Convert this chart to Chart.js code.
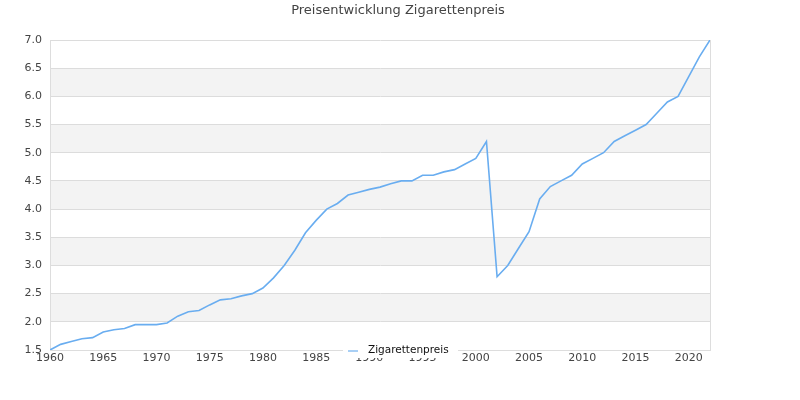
<!DOCTYPE html>
<html>
<head>
<meta charset="utf-8">
<title>Preisentwicklung Zigarettenpreis</title>
<script src="https://cdn.jsdelivr.net/npm/chart.js@4"></script>
<style>
    html, body { margin: 0; padding: 0; background: #fff; }
    #wrap { width: 800px; height: 400px; }
</style>
</head>
<body>
<div id="wrap"><canvas id="priceChart" width="800" height="400"></canvas></div>
<script>
/* ==========================================
   Daten
========================================== */

const years = [
    1960, 1961, 1962, 1963, 1964, 1965, 1966, 1967, 1968, 1969,
    1970, 1971, 1972, 1973, 1974, 1975, 1976, 1977, 1978, 1979,
    1980, 1981, 1982, 1983, 1984, 1985, 1986, 1987, 1988, 1989,
    1990, 1991, 1992, 1993, 1994, 1995, 1996, 1997, 1998, 1999,
    2000, 2001, 2002, 2003, 2004, 2005, 2006, 2007, 2008, 2009,
    2010, 2011, 2012, 2013, 2014, 2015, 2016, 2017, 2018, 2019,
    2020, 2021, 2022
];

const prices = [
    1.50, 1.60, 1.65, 1.70, 1.72, 1.82, 1.86, 1.88, 1.95, 1.95,
    1.95, 1.98, 2.10, 2.18, 2.20, 2.30, 2.39, 2.41, 2.46, 2.50,
    2.60, 2.78, 3.00, 3.27, 3.58, 3.80, 4.00, 4.10, 4.25, 4.30,
    4.35, 4.39, 4.45, 4.50, 4.50, 4.60, 4.60, 4.66, 4.70, 4.80,
    4.90, 5.20, 2.80, 3.00, 3.30, 3.60, 4.18, 4.40, 4.50, 4.60,
    4.80, 4.90, 5.00, 5.20, 5.30, 5.40, 5.50, 5.70, 5.90, 6.00,
    6.35, 6.70, 7.00
];

const seriesLabel = "Zigarettenpreis";
const chartTitle = "Preisentwicklung Zigarettenpreis";

const FONT = "'DejaVu Sans', sans-serif";

/* ==========================================
   Hintergrund-Streifen
========================================== */

const bandPlugin = {
    id: "bands",
    beforeDraw(chart) {
        const { ctx, chartArea, scales } = chart;
        const y = scales.y;
        ctx.save();
        ctx.fillStyle = "#f3f3f3";
        for (let v = 2.0; v < 7.0; v += 1.0) {
            const top = y.getPixelForValue(v + 0.5);
            const bottom = y.getPixelForValue(v);
            ctx.fillRect(chartArea.left, top, chartArea.right - chartArea.left, bottom - top);
        }
        ctx.restore();
    }
};

/* ==========================================
   Titel + Legende
========================================== */

const overlayPlugin = {
    id: "overlay",
    afterDraw(chart) {
        const { ctx, chartArea } = chart;
        ctx.save();

        // Titel
        ctx.font = "13px " + FONT;
        ctx.fillStyle = "#444";
        ctx.textAlign = "center";
        ctx.textBaseline = "middle";
        ctx.fillText(chartTitle, 398, 11);

        // Legende
        ctx.font = "10.5px " + FONT;
        const label = chart.data.datasets[0].label;
        const yMid = chartArea.bottom;
        ctx.fillStyle = "#fff";
        ctx.fillRect(343, yMid - 7, 115, 15);
        ctx.strokeStyle = "#a8cff5";
        ctx.lineWidth = 2;
        ctx.beginPath();
        ctx.moveTo(348, yMid + 1);
        ctx.lineTo(358, yMid + 1);
        ctx.stroke();
        ctx.fillStyle = "#111";
        ctx.textAlign = "left";
        ctx.fillText(label, 368, yMid);

        ctx.restore();
    }
};

/* ==========================================
   Chart
========================================== */

const priceChart = new Chart(document.getElementById("priceChart"), {

    type: "line",

    data: {
        datasets: [{
            label: seriesLabel,
            data: years.map((yr, i) => ({ x: yr, y: prices[i] })),
            borderColor: "#69adf0",
            borderWidth: 1.6,
            pointRadius: 0,
            tension: 0,
            fill: false
        }]
    },

    options: {
        responsive: false,
        animation: false,
        devicePixelRatio: 1,
        layout: {
            padding: { top: 40, right: 90, left: 0, bottom: 0 }
        },
        plugins: {
            legend: { display: false },
            title: { display: false },
            tooltip: { enabled: false }
        },
        scales: {
            x: {
                type: "linear",
                min: 1960,
                max: 2022,
                afterFit: s => { s.height = 50; },
                afterBuildTicks: s => {
                    const t = [];
                    for (let v = 1960; v <= 2020; v += 5) t.push({ value: v });
                    s.ticks = t;
                },
                ticks: {
                    color: "#444",
                    font: { family: FONT, size: 11 },
                    padding: 2,
                    maxRotation: 0,
                    callback: v => String(v)
                },
                grid: { display: false, drawTicks: false },
                border: { display: true, color: "#ddd", width: 1 }
            },
            y: {
                min: 1.5,
                max: 7.0,
                afterFit: s => { s.width = 50; },
                ticks: {
                    stepSize: 0.5,
                    color: "#444",
                    font: { family: FONT, size: 11 },
                    padding: 8,
                    callback: v => Number(v).toFixed(1)
                },
                grid: { color: "#dcdcdc", drawTicks: false },
                border: { display: true, color: "#ddd" }
            },
            yRight: {
                position: "right",
                min: 1.5,
                max: 7.0,
                afterFit: s => { s.width = 0; },
                ticks: { display: false },
                grid: { display: false, drawTicks: false },
                border: { display: true, color: "#ddd" }
            }
        }
    },

    plugins: [bandPlugin, overlayPlugin]

});
</script>
</body>
</html>
